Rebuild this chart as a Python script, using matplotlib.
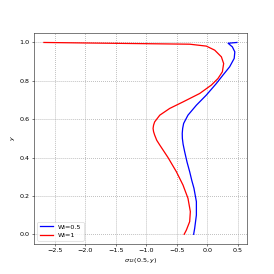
import matplotlib
matplotlib.use('Agg')
import matplotlib.pyplot as plt

# sigma_12(0.5, y) profiles
y_wi05 = [1.0, 0.996, 0.977, 0.951, 0.917, 0.873, 0.83, 0.786, 0.726, 0.673,
          0.621, 0.578, 0.552, 0.526, 0.50, 0.47, 0.43, 0.376, 0.326, 0.28,
          0.24, 0.17, 0.10, 0.031, 0.0]
s_wi05 = [0.485, 0.34, 0.41, 0.45, 0.44, 0.365, 0.256, 0.147, -0.016, -0.18,
          -0.318, -0.389, -0.405, -0.412, -0.41, -0.398, -0.372, -0.333, -0.29, -0.255,
          -0.22, -0.18, -0.18, -0.208, -0.225]

y_wi1 = [1.0, 0.991, 0.981, 0.96, 0.925, 0.89, 0.847, 0.812, 0.778, 0.734,
         0.69, 0.656, 0.621, 0.586, 0.569, 0.552, 0.535, 0.517, 0.49, 0.465,
         0.4, 0.326, 0.257, 0.1875, 0.118, 0.066, 0.022, 0.0]
s_wi1 = [-2.68, -0.29, -0.016, 0.12, 0.23, 0.267, 0.246, 0.174, 0.066, -0.126,
         -0.4, -0.618, -0.78, -0.864, -0.882, -0.89, -0.882, -0.864, -0.83, -0.78,
         -0.645, -0.508, -0.4, -0.318, -0.279, -0.29, -0.344, -0.38]

fig, ax = plt.subplots(figsize=(6, 6))
ax.plot(s_wi05, y_wi05, color='blue', lw=2, label='Wi=0.5')
ax.plot(s_wi1, y_wi1, color='red', lw=2, label='Wi=1')
ax.set_xlabel(r'$\sigma_{12}(0.5, y)$')
ax.set_ylabel(r'$y$')
ax.grid(True, linestyle=':', color='#999999', lw=1.2)
ax.legend(loc='lower left')

fig.savefig('out.png', dpi=274 / 6)
